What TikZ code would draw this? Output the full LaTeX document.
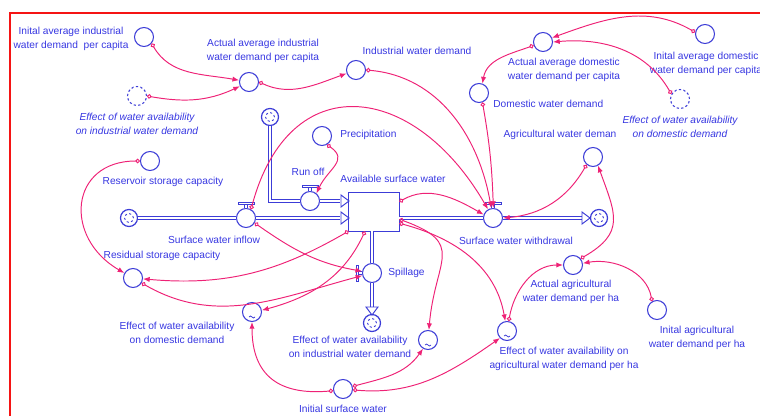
\documentclass[tikz,border=0pt]{standalone}
\usepackage{fontspec}
\setmainfont{Liberation Sans}
\usetikzlibrary{arrows.meta, calc, positioning}
\definecolor{vblue}{RGB}{55,55,225}
\definecolor{cblue}{RGB}{60,60,215}
\definecolor{lnkpink}{RGB}{238,34,118}
\definecolor{framered}{RGB}{245,20,20}
\tikzset{
  aux/.style={circle, draw=cblue, fill=white, line width=0.6pt, minimum size=0.38cm, inner sep=0pt},
  ghost/.style={aux, dash pattern=on 1.3pt off 1.3pt},
  sink/.style={circle, draw=cblue, fill=white, line width=0.7pt, minimum size=0.34cm, inner sep=0pt},
  stockbox/.style={rectangle, minimum width=1cm, minimum height=0.76cm, inner sep=0pt},
  lbl/.style={text=vblue, font=\fontsize{5.8}{7.9}\selectfont, align=center, inner sep=0pt},
  ilbl/.style={lbl, font=\fontsize{5.8}{7.9}\selectfont\itshape},
  pipe/.style={draw=cblue, double=white, double distance=1.5pt, line width=0.55pt},
  link/.style={lnkpink, line width=0.55pt, {Circle[open,length=2.6pt,width=2.6pt]}-{Latex[length=3.8pt,width=3pt]}},
  flowtip/.pic={\draw[cblue, line width=0.55pt, fill=white] (-8,-6) -- (0,0) -- (-8,6) -- cycle;},
  handle/.pic={\draw[cblue, line width=0.5pt, fill=white] (-1.5,0) -- (-1.5,3.5) -- (1.5,3.5) -- (1.5,0)
     (-8,3.5) -- (8,3.5) -- (8,6) -- (-8,6) -- cycle;}
}
\begin{document}
\begin{tikzpicture}[x=0.02cm, y=0.02cm]
\useasboundingbox (0,0) rectangle (760,416);
% frame
\draw[framered, line width=0.7pt] (10,0) -- (10,403) -- (760,403);

% stock, flows and clouds
\node[stockbox] (stock) at (374,204) {};
\draw[cblue, fill=white, line width=0.7pt] (stock.south west) -- (stock.south east)
  -- (stock.north east) -- (stock.north west) -- cycle;
\node[sink] (cTop) at (270,299) {};
\node[sink] (cLeft) at (129,198) {};
\node[sink] (cRight) at (599,198) {};
\node[sink] (cBot) at (372,93) {};
\foreach \c in {cTop,cLeft,cRight,cBot}
  \draw[cblue, line width=0.5pt, dash pattern=on 1.2pt off 1.4pt] (\c) circle[radius=4.5];
\node[aux] (runoff) at (310,215) {};
\node[aux] (inflow) at (246,198) {};
\node[aux] (withdr) at (493,198) {};
\node[aux] (spill) at (372,143) {};

\draw[pipe] (cTop.south) |- (runoff.west);
\draw[pipe] (runoff.east) -- (340,215);
\pic at (349,215) {flowtip};
\draw[pipe] (cLeft.east) -- (inflow.west);
\draw[pipe] (inflow.east) -- (340,198);
\pic at (349,198) {flowtip};
\draw[pipe] (stock.east |- withdr) -- (withdr.west);
\draw[pipe] (withdr.east) -- (582,198);
\pic at (590,198) {flowtip};
\draw[pipe] (stock.south -| spill) -- (spill.north);
\draw[pipe] (spill.south) -- (372,109);
\pic[rotate=-90] at (372,101) {flowtip};
\pic at (runoff.north) {handle};
\pic at (inflow.north) {handle};
\pic at (withdr.north) {handle};
\pic[rotate=90] at (spill.west) {handle};

% auxiliaries
\node[aux] (iniInd) at (144,379) {};
\node[aux] (actInd) at (249,334) {};
\node[ghost] (effIndSh) at (137,320) {};
\node[aux] (indDem) at (356,346) {};
\node[aux] (actDom) at (543,374) {};
\node[aux] (iniDom) at (705,382) {};
\node[ghost] (effDomSh) at (680,317) {};
\node[aux] (domDem) at (479,323) {};
\node[aux] (agrDem) at (593,259) {};
\node[aux] (precip) at (322,280) {};
\node[aux] (resCap) at (150,255) {};
\node[aux] (resid) at (133,138) {};
\node[aux] (effDom) at (252,104) {};
\node[aux] (effInd) at (428,76) {};
\node[aux] (iniSurf) at (343,27) {};
\node[aux] (effAgr) at (507,85) {};
\node[aux] (actAgr) at (573,151) {};
\node[aux] (iniAgr) at (657,106) {};
\foreach \c in {effDom,effInd,effAgr}
  \draw[cblue, line width=0.4pt] ([shift={(-3,-5)}]\c.center) sin ++(1.5,1) cos ++(1.5,-1) sin ++(1.5,-1) cos ++(1.5,1);

% labels
\node[lbl] (iniIndL) at (71,377) {Inital average industrial\\water demand\ \ per capita};
\node[lbl] (actIndL) at (263,365) {Actual average industrial\\water demand per capita};
\node[ilbl] (effIndShL) at (137,292) {Effect of water availability\\on industrial water demand};
\node[lbl] (indDemL) at (417,365) {Industrial water demand};
\node[lbl] (actDomL) at (564,346) {Actual average domestic\\water demand per capita};
\node[lbl] (iniDomL) at (706,352) {Inital average domestic\\water demand per capita};
\node[ilbl] (effDomShL) at (680,289) {Effect of water availability\\on domestic demand};
\node[lbl, anchor=west] (domDemL) at (493,312) {Domestic water demand};
\node[lbl] (agrDemL) at (560,281) {Agricultural water deman};
\node[lbl, anchor=west] (precipL) at (340,281) {Precipitation};
\node[lbl] (runoffL) at (308,244) {Run off};
\node[lbl] (stockL) at (393,237) {Available surface water};
\node[lbl] (inflowL) at (214,176) {Surface water inflow};
\node[lbl] (withdrL) at (516,175) {Surface water withdrawal};
\node[lbl, anchor=west] (spillL) at (388,143) {Spillage};
\node[lbl] (resCapL) at (163,234) {Reservoir storage capacity};
\node[lbl] (residL) at (162,160) {Residual storage capacity};
\node[lbl] (effDomL) at (177,83) {Effect of water availability\\on domestic demand};
\node[lbl] (effIndL) at (350,69) {Effect of water availability\\on industrial water demand};
\node[lbl] (iniSurfL) at (343,7) {Initial surface water};
\node[lbl] (effAgrL) at (564,57) {Effect of water availability on\\agricultural water demand per ha};
\node[lbl] (actAgrL) at (571,124) {Actual agricultural\\water demand per ha};
\node[lbl] (iniAgrL) at (697,78) {Inital agricultural\\water demand per ha};

% links
\draw[link] (iniInd.-40) to[out=-60, in=170] (actInd.170);
\draw[link] (effIndSh.east) to[out=-10, in=205] (actInd.205);
\draw[link] (actInd.east) to[out=-25, in=200] (indDem.200);
\draw[link] (indDem.east) to[out=-5, in=100] (withdr.100);
\draw[link] (domDem.-70) to[out=-80, in=92] (withdr.88);
\draw[link] (actDom.200) to[out=200, in=80] (domDem.70);
\draw[link] (iniDom.170) to[out=150, in=20] (actDom.25);
\draw[link] (effDomSh.150) to[out=120, in=5] (actDom.0);
\draw[link] (agrDem.-130) to[out=-120, in=5] (withdr.east);
\draw[link] (actAgr.40) to[out=30, in=-70, looseness=1.4] (agrDem.-60);
\draw[link] (iniAgr.120) to[out=100, in=10] (actAgr.10);
\draw[link] (stock.-24) to[out=-15, in=100] (effAgr.100);
\draw[link] (effAgr.80) to[out=80, in=180] (actAgr.west);
\draw[link] (iniSurf.-5) to[out=-5, in=215] (effAgr.225);
\draw[link] (iniSurf.15) to[out=15, in=235] (effInd.240);
\draw[link] (iniSurf.190) to[out=185, in=-90, looseness=1.3] (effDom.south);
\draw[link] (stock.-16) to[out=-20, in=85, looseness=1.6] (effInd.85);
\draw[link] (stock.-143) to[out=-150, in=-5] (resid.-5);
\draw[link] (stock.-115) to[out=-115, in=15] (effDom.10);
\draw[link] (resid.-30) to[out=-30, in=195] (spill.195);
\draw[link] (inflow.-30) to[out=-35, in=170] (spill.170);
\draw[link] (inflow.60) to[out=75, in=120, looseness=1.6] (withdr.120);
\draw[link] (stock.22) to[out=30, in=150] (withdr.160);
\draw[link] (precip.-60) to[out=-35, in=65, looseness=1.4] (runoff.50);
\draw[link] (resCap.west) to[out=180, in=150, looseness=1.6] (resid.150);
\end{tikzpicture}
\end{document}
